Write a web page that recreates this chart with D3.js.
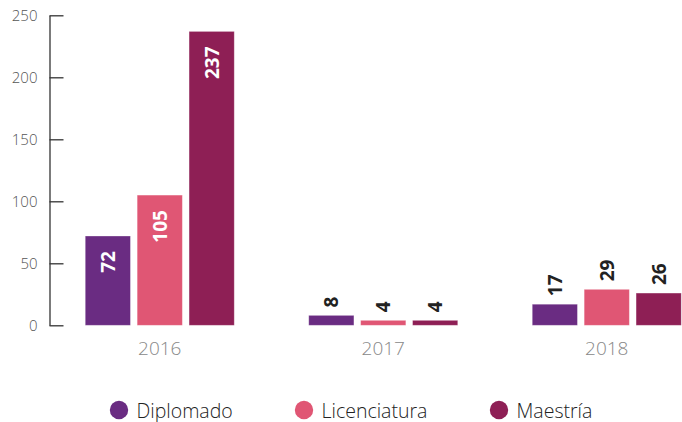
<!DOCTYPE html>
<html><head><meta charset="utf-8">
<script src="https://cdn.jsdelivr.net/npm/d3@7"></script>
<style>body{margin:0;background:#fff}svg{display:block}</style>
</head><body><svg id="c" width="682" height="422"></svg>
<script>
const years = ["2016", "2017", "2018"];
const seriesNames = ["Diplomado", "Licenciatura", "Maestría"];
const diplomado = [72, 8, 17];
const licenciatura = [105, 4, 29];
const maestria = [237, 4, 26];
const yTicks = [0, 50, 100, 150, 200, 250];
const colors = ["#6a2c82", "#e05674", "#8e1f55"];

const seriesValues = [diplomado, licenciatura, maestria];
const svg = d3.select("#c");
const font = "'Open Sans', sans-serif";

const y = d3.scaleLinear().domain([0, 250]).range([325.3, 15.3]);
const x0 = d3.scaleBand().domain(years).range([48, 718.5]).paddingInner(0).paddingOuter(0);
const x1 = d3.scaleBand().domain(seriesNames).range([-74.5, 74.5]).paddingInner(0.13).paddingOuter(0);

// axis
const axis = d3.axisRight(y).tickValues(yTicks).tickSize(14).tickSizeOuter(0);
const ag = svg.append("g").attr("transform", "translate(49.5,0)").call(axis);
ag.select(".domain").attr("stroke", "#333").attr("stroke-width", 1.3);
ag.selectAll(".tick line").attr("stroke", "#333").attr("stroke-width", 1.3);
ag.selectAll(".tick text").attr("text-anchor", "end").attr("x", -12)
  .attr("fill", "#555").style("font-family", font).style("font-size", "15px").style("font-weight", 300);

// bars
const data = [];
years.forEach((yr, i) => seriesNames.forEach((s, j) => data.push({yr, s, j, v: seriesValues[j][i]})));
const g = svg.append("g");
g.selectAll("rect").data(data).join("rect")
  .attr("x", d => x0(d.yr) + x0.bandwidth() / 2 + x1(d.s))
  .attr("width", x1.bandwidth())
  .attr("y", d => y(d.v))
  .attr("height", d => y(0) - y(d.v))
  .attr("fill", d => colors[d.j])
  .attr("stroke", "rgba(255,255,255,0.35)").attr("stroke-width", 0.8);

g.selectAll("text.val").data(data).join("text").attr("class", "val")
  .attr("transform", d => {
    const cx = x0(d.yr) + x0.bandwidth() / 2 + x1(d.s) + x1.bandwidth() / 2;
    const inside = d.v > 50;
    const ty = inside ? y(d.v) + 15 : y(d.v) - 8;
    return `translate(${cx},${ty}) rotate(-90)`;
  })
  .attr("text-anchor", d => d.v > 50 ? "end" : "start")
  .attr("dominant-baseline", "central")
  .attr("fill", d => d.v > 50 ? "#fff" : "#222")
  .style("font-family", font).style("font-size", "19px").style("font-weight", 700)
  .text(d => d.v);

// year labels
svg.append("g").selectAll("text").data(years).join("text")
  .attr("x", d => x0(d) + x0.bandwidth() / 2)
  .attr("y", 355)
  .attr("text-anchor", "middle").attr("fill", "#888")
  .style("font-family", font).style("font-size", "19px").style("font-weight", 300)
  .text(d => d);

// legend
const lx = [119, 304, 499];
const lg = svg.append("g").selectAll("g").data(seriesNames).join("g")
  .attr("transform", (d, i) => `translate(${lx[i]},410)`);
lg.append("circle").attr("r", 9.2).attr("fill", (d, i) => colors[i]);
lg.append("text").attr("x", 17.5).attr("y", 0).attr("dominant-baseline", "central")
  .attr("fill", "#222").style("font-family", font).style("font-size", "19.5px").style("font-weight", 300)
  .text(d => d);
</script></body></html>
